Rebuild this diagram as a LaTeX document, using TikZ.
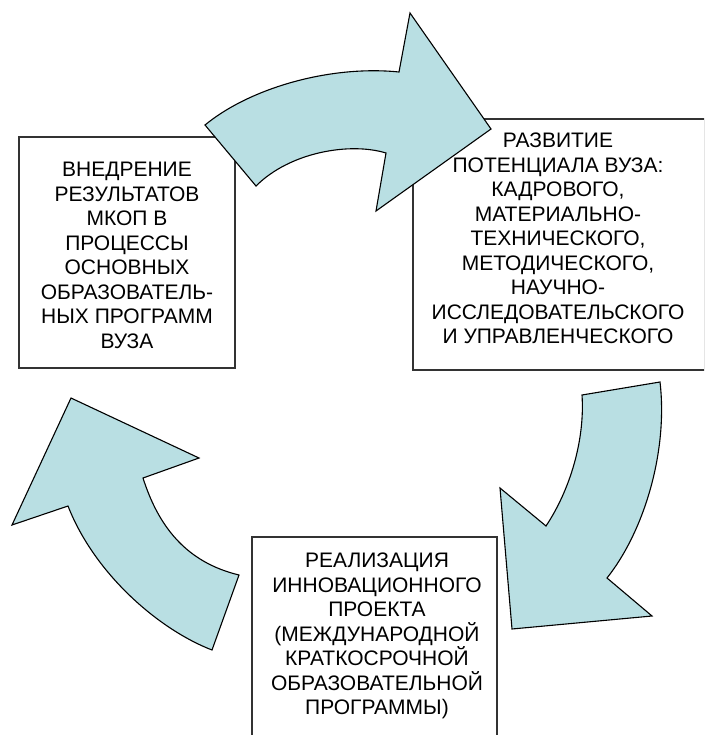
\documentclass[tikz,border=0pt]{standalone}
\usepackage{fontspec}
\setmainfont{Liberation Sans}
\definecolor{arrowfill}{HTML}{B9DFE3}
\definecolor{boxline}{HTML}{333333}
\tikzset{
  cyclearrow/.style={fill=arrowfill, draw=black, line width=1.1pt, line join=miter},
  stagebox/.style={draw=boxline, line width=1.3pt, fill=white, rectangle, inner sep=0pt},
  stagetext/.style={align=center, inner sep=0pt, font=\fontsize{21}{24.5}\selectfont, anchor=north}
}
\begin{document}
\begin{tikzpicture}[x=1pt, y=-1pt]
  \clip (0,0) rectangle (704,735);
  \fill[white] (0,0) rectangle (704,735);

  % the three stages
  \node[stagebox, minimum width=216pt, minimum height=231pt] (b1) at (127,252.5) {};
  \node[stagebox, minimum width=292pt, minimum height=251pt] (b2) at (559,244.5) {};
  \node[stagebox, minimum width=245pt, minimum height=210pt] (b3) at (374.5,642) {};

  \node[stagetext] (t1) at (127,162) {ВНЕДРЕНИЕ\\РЕЗУЛЬТАТОВ\\МКОП В\\ПРОЦЕССЫ\\ОСНОВНЫХ\\ОБРАЗОВАТЕЛЬ-\\НЫХ ПРОГРАММ\\ВУЗА};
  \node[stagetext] (t2) at (558,133) {РАЗВИТИЕ\\ПОТЕНЦИАЛА ВУЗА:\\КАДРОВОГО,\\МАТЕРИАЛЬНО-\\ТЕХНИЧЕСКОГО,\\МЕТОДИЧЕСКОГО,\\НАУЧНО-\\ИССЛЕДОВАТЕЛЬСКОГО\\И УПРАВЛЕНЧЕСКОГО};
  \node[stagetext] (t3) at (377,553) {РЕАЛИЗАЦИЯ\\ИННОВАЦИОННОГО\\ПРОЕКТА\\(МЕЖДУНАРОДНОЙ\\КРАТКОСРОЧНОЙ\\ОБРАЗОВАТЕЛЬНОЙ\\ПРОГРАММЫ)};

  % curved arrows of the cycle
  \draw[cyclearrow] (205,125) .. controls (250,88) and (330,65) .. (399,72)
    -- (410,13) -- (491,129) -- (376,211) -- (386,153)
    .. controls (350,142) and (290,152) .. (256,186) -- cycle;

  \draw[cyclearrow] (582,395) -- (660,382)
    .. controls (668,450) and (645,530) .. (607,578)
    -- (652,616) -- (512,629) -- (500,488) -- (546,526)
    .. controls (570,490) and (585,440) .. cycle;

  \draw[cyclearrow] (239,575) -- (212,650)
    .. controls (160,630) and (95,575) .. (68,506)
    -- (12,525) -- (71,398) -- (199,458) -- (143,478)
    .. controls (158,525) and (185,562) .. cycle;
\end{tikzpicture}
\end{document}
